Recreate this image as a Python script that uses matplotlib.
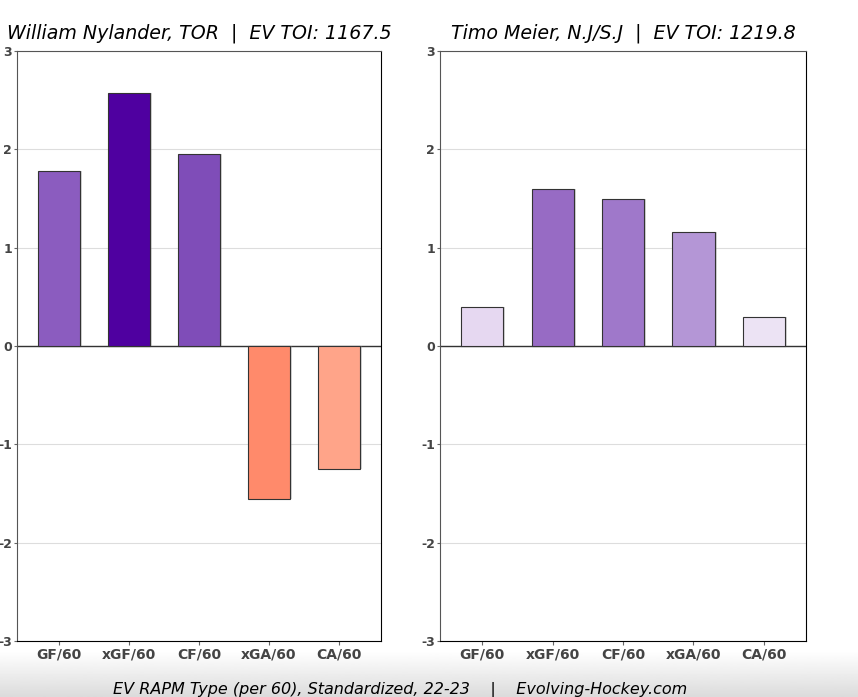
import numpy as np
import matplotlib.pyplot as plt

plt.rcParams["axes.unicode_minus"] = False

metrics = ["GF/60", "xGF/60", "CF/60", "xGA/60", "CA/60"]

left_title = "William Nylander, TOR  |  EV TOI: 1167.5"
left_values = [1.78, 2.57, 1.95, -1.56, -1.25]
left_colors = ["#8b5cbf", "#4f00a0", "#7f4db8", "#ff8a6b", "#ffa489"]

right_title = "Timo Meier, N.J/S.J  |  EV TOI: 1219.8"
right_values = [0.40, 1.60, 1.49, 1.16, 0.30]
right_colors = ["#e6d8f1", "#976bc4", "#9f78ca", "#b496d6", "#ece3f4"]

footer = "EV RAPM Type (per 60), Standardized, 22-23    |    Evolving-Hockey.com"


def draw_panel(ax, title, values, colors):
    x = np.arange(len(metrics))
    ax.axhline(0, color="#333333", linewidth=1.0, zorder=2)
    ax.bar(x + 0.03, values, width=0.6, color="#888888", alpha=0.35, zorder=2)
    ax.bar(x, values, width=0.6, color=colors, edgecolor="#333333",
           linewidth=0.8, zorder=3)
    ax.set_xlim(-0.6, 4.6)
    ax.set_ylim(-3, 3)
    ax.set_yticks(range(-3, 4))
    ax.set_xticks(x)
    ax.set_xticklabels(metrics)
    ax.grid(axis="y", color="#dddddd", linewidth=0.8, zorder=0)
    ax.set_axisbelow(True)
    for lab in ax.get_xticklabels():
        lab.set_fontweight("bold")
        lab.set_color("#444444")
        lab.set_fontsize(10)
    for lab in ax.get_yticklabels():
        lab.set_fontweight("bold")
        lab.set_color("#444444")
        lab.set_fontsize(9)
    ax.tick_params(axis="x", length=3, color="#666666", pad=2)
    ax.tick_params(axis="y", length=2.5, color="#666666", pad=1)
    ax.spines["left"].set_color("#555555")
    ax.spines["top"].set_color("#555555")
    ax.set_title(title, fontsize=13.7, style="italic", pad=9)


fig = plt.figure(figsize=(8.58, 6.97), dpi=100)

# soft gray fade at the bottom
grad = fig.add_axes([0, 0, 1, 0.065], zorder=-1)
grad.imshow(np.linspace(0.86, 1.0, 50).reshape(-1, 1), cmap="gray",
            vmin=0, vmax=1, aspect="auto", origin="lower")
grad.axis("off")

ax1 = fig.add_axes([17 / 858, 1 - 641 / 697, 364 / 858, 590 / 697])
ax2 = fig.add_axes([440 / 858, 1 - 641 / 697, 366 / 858, 590 / 697])
draw_panel(ax1, left_title, left_values, left_colors)
draw_panel(ax2, right_title, right_values, right_colors)

fig.text(400 / 858, 1 - 690 / 697, footer, ha="center", va="center",
         fontsize=11.5, style="italic")

fig.savefig("out.png", dpi=100)
